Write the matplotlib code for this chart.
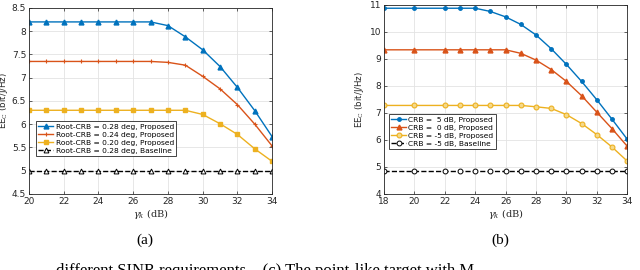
import matplotlib
matplotlib.use('Agg')
import matplotlib.pyplot as plt

# (a) Root-CRB constraints
xa = [20, 21, 22, 23, 24, 25, 26, 27, 28, 29, 30, 31, 32, 33, 34]
a_028 = [8.2, 8.2, 8.2, 8.2, 8.2, 8.2, 8.2, 8.2, 8.12, 7.88, 7.60, 7.24, 6.79, 6.29, 5.73]
a_024 = [7.35, 7.35, 7.35, 7.35, 7.35, 7.35, 7.35, 7.35, 7.33, 7.27, 7.03, 6.76, 6.42, 6.00, 5.53]
a_020 = [6.3, 6.3, 6.3, 6.3, 6.3, 6.3, 6.3, 6.3, 6.3, 6.3, 6.21, 6.01, 5.78, 5.47, 5.20]
a_base = [5.0] * 15
labels_a = ['Root-CRB = 0.28 deg, Proposed', 'Root-CRB = 0.24 deg, Proposed',
            'Root-CRB = 0.20 deg, Proposed', 'Root-CRB = 0.28 deg, Baseline']

# (b) CRB constraints
xb = [18, 20, 22, 23, 24, 25, 26, 27, 28, 29, 30, 31, 32, 33, 34]
b_5 = [10.88, 10.88, 10.88, 10.88, 10.88, 10.76, 10.56, 10.28, 9.89, 9.38, 8.80, 8.17, 7.49, 6.77, 6.03]
b_0 = [9.34, 9.34, 9.34, 9.34, 9.34, 9.34, 9.34, 9.21, 8.96, 8.61, 8.17, 7.64, 7.03, 6.42, 5.77]
b_m5 = [7.28, 7.28, 7.28, 7.28, 7.28, 7.28, 7.28, 7.28, 7.23, 7.17, 6.94, 6.61, 6.20, 5.74, 5.22]
b_base = [4.86] * 15
labels_b = ['CRB =  5 dB, Proposed', 'CRB =  0 dB, Proposed',
            'CRB = -5 dB, Proposed', 'CRB = -5 dB, Baseline']

blue, red, yel = '#0072BD', '#D95319', '#EDB120'
tc = '#262626'

plt.rcParams['font.family'] = ['DejaVu Sans']
plt.rcParams['mathtext.fontset'] = 'dejavuserif'

fig = plt.figure(figsize=(6.4, 2.7), dpi=100)
ax1 = fig.add_axes([0.0453, 0.2815, 0.380, 0.689])
ax2 = fig.add_axes([0.600, 0.2815, 0.380, 0.700])

lw = 1.0
ax1.plot(xa, a_028, '-^', color=blue, lw=lw, ms=3.5, label=labels_a[0])
ax1.plot(xa, a_024, '-+', color=red, lw=lw, ms=3.5, mew=0.8, label=labels_a[1])
ax1.plot(xa, a_020, '-s', color=yel, lw=lw, ms=2.5, label=labels_a[2])
ax1.plot(xa, a_base, '--^', color='black', lw=lw, ms=3.5, mfc='white', mew=0.7, label=labels_a[3])

ax2.plot(xb, b_5, '-o', color=blue, lw=lw, ms=2.5, label=labels_b[0])
ax2.plot(xb, b_0, '-^', color=red, lw=lw, ms=3.5, label=labels_b[1])
ax2.plot(xb, b_m5, '-o', color=yel, lw=lw, ms=3.5, mfc='#f5d98a', mew=0.8, label=labels_b[2])
ax2.plot(xb, b_base, '--o', color='black', lw=lw, ms=3.5, mfc='white', mew=0.7, label=labels_b[3])

ax1.set_xlim(20, 34)
ax1.set_ylim(4.5, 8.5)
ax1.set_xticks(range(20, 35, 2))
ax1.set_yticks([4.5, 5, 5.5, 6, 6.5, 7, 7.5, 8, 8.5])
ax1.set_yticklabels(['4.5', '5', '5.5', '6', '6.5', '7', '7.5', '8', '8.5'])

ax2.set_xlim(18, 34)
ax2.set_ylim(4, 11)
ax2.set_xticks(range(18, 35, 2))
ax2.set_yticks(range(4, 12))

for ax, anchor, ylx in [(ax1, (0.029, 0.392), -0.08), (ax2, (0.02, 0.423), -0.072)]:
    ax.grid(True, color='#e3e3e3', lw=0.6)
    ax.set_axisbelow(True)
    ax.tick_params(direction='in', top=True, right=True, labelsize=6.5,
                   colors=tc, length=2.5, width=0.5, pad=2)
    for s in ax.spines.values():
        s.set_color(tc)
        s.set_linewidth(0.6)
    ax.set_xlabel(r'$\gamma_k$ (dB)', fontsize=7, color=tc, family='DejaVu Serif', labelpad=1)
    ax.set_ylabel(r'EE$_\mathrm{C}$ (bit/J/Hz)', fontsize=6.2, color=tc)
    ax.yaxis.set_label_coords(ylx, 0.5)
    leg = ax.legend(loc='upper left', bbox_to_anchor=anchor, fontsize=5.4,
                    fancybox=False, framealpha=1, edgecolor=tc, handlelength=2.0,
                    handletextpad=0.3, borderpad=0.3, labelspacing=0.25, borderaxespad=0)
    leg.get_frame().set_linewidth(0.6)

fig.text(145 / 640, 1 - 240 / 270, '(a)', fontsize=11, family='Liberation Serif', ha='center', va='center')
fig.text(500 / 640, 1 - 240 / 270, '(b)', fontsize=11, family='Liberation Serif', ha='center', va='center')
fig.text(56 / 640, 1 - 263 / 270, 'different SINR requirements.   (c) The point-like target with M',
         fontsize=12, family='Liberation Serif', ha='left', va='top')

fig.savefig('out.png', dpi=100)
